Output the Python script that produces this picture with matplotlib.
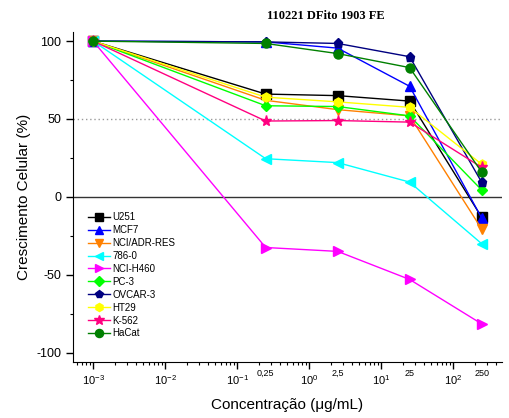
import numpy as np
import matplotlib
matplotlib.use("Agg")
import matplotlib.pyplot as plt
import matplotlib.transforms as mtransforms
from matplotlib.ticker import LogLocator, MultipleLocator, NullFormatter

plt.rcParams['font.family'] = ['Liberation Sans', 'DejaVu Sans']
plt.rcParams['axes.unicode_minus'] = False

# concentrations (ug/mL)
conc = [0.001, 0.25, 2.5, 25, 250]
extra_labels = ["0,25", "2,5", "25", "250"]

u251 = [100, 66, 65, 61.5, -13]
mcf7 = [100, 99.5, 95.5, 71, -13.5]
nci_adr = [100, 62, 56, 52, -20.5]
c786 = [100, 24.5, 22, 9.5, -30]
nci_h460 = [100, -32.5, -35, -53, -81.5]
pc3 = [100, 58.5, 58, 52, 4.5]
ovcar3 = [100, 99.5, 98.5, 90, 9.5]
ht29 = [100, 64, 61, 57.5, 21]
k562 = [100, 48.7, 49, 48, 19]
hacat = [100, 98.5, 92, 83, 16]

series = [
    ("U251", u251, "black", "s"),
    ("MCF7", mcf7, "#0000FF", "^"),
    ("NCI/ADR-RES", nci_adr, "#FF8000", "v"),
    ("786-0", c786, "#00FFFF", "<"),
    ("NCI-H460", nci_h460, "#FF00FF", ">"),
    ("PC-3", pc3, "#00FF00", "D"),
    ("OVCAR-3", ovcar3, "#000080", "p"),
    ("HT29", ht29, "#FFFF00", "h"),
    ("K-562", k562, "#FF0080", "*"),
    ("HaCat", hacat, "#008000", "o"),
]

fig = plt.figure(figsize=(5.09, 4.18), dpi=100)
ax = fig.add_axes([0.1434, 0.134, 0.8426, 0.79])

ax.axhline(0, color="#333333", lw=1.0, zorder=1)
ax.axhline(50, color="#999999", lw=1.0, ls=(0, (1, 2)), zorder=1)

for name, vals, col, mk in series:
    ms = 8 if mk == "*" else 6.5
    if mk == "D":
        ms = 5.5
    ax.plot(conc, vals, color=col, marker=mk, ms=ms, lw=1.0, label=name,
            markeredgecolor=col, zorder=3)

ax.set_xscale("log")
ax.set_xlim(10 ** -3.28, 10 ** 2.68)
ax.set_ylim(-106, 106)
ax.spines["top"].set_visible(False)
ax.spines["right"].set_visible(False)

ax.set_yticks([-100, -50, 0, 50, 100])
ax.yaxis.set_minor_locator(MultipleLocator(25))
ax.xaxis.set_major_locator(LogLocator(base=10, numticks=10))
ax.xaxis.set_minor_locator(LogLocator(base=10, subs=np.arange(2, 10), numticks=20))
ax.xaxis.set_minor_formatter(NullFormatter())
ax.tick_params(axis="both", which="major", direction="out", length=5, width=1, labelsize=8)
ax.tick_params(axis="both", which="minor", direction="out", length=2.5, width=0.8)
ax.tick_params(axis="x", which="major", pad=3)
ax.tick_params(axis="y", labelsize=9)

trans = mtransforms.blended_transform_factory(ax.transData, ax.transAxes)
for xv, lab in zip(conc[1:], extra_labels):
    ax.text(xv, -0.022, lab, transform=trans, fontsize=6.5, ha="center", va="top")

ax.set_xlabel("Concentração (μg/mL)", fontsize=11, labelpad=8)
ax.set_ylabel("Crescimento Celular (%)", fontsize=11, labelpad=4)

fig.text(0.64, 0.962, "110221 DFito 1903 FE", ha="center", va="center",
         fontsize=9, fontweight="bold", family=["Liberation Serif", "DejaVu Serif"])

ax.legend(loc="upper left", bbox_to_anchor=(0.015, 0.48), frameon=False,
          fontsize=7, handlelength=2.2, handletextpad=0.3, labelspacing=0.3,
          markerscale=0.9)

fig.savefig("out.png", dpi=100)
